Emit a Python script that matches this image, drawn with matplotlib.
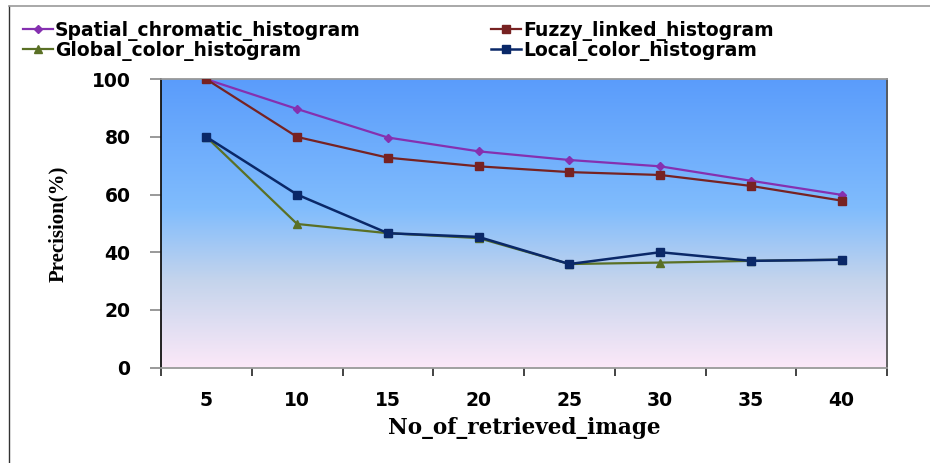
import numpy as np
import matplotlib.pyplot as plt
from matplotlib.colors import LinearSegmentedColormap
from matplotlib.lines import Line2D

# Retrieval precision for each histogram method
n_retrieved = ["5", "10", "15", "20", "25", "30", "35", "40"]
spatial_chromatic = [100, 89.7, 79.8, 75, 72, 69.8, 64.8, 59.9]
fuzzy_linked = [100, 80, 72.8, 69.8, 67.8, 66.8, 63, 57.9]
global_color = [80, 49.8, 46.6, 44.9, 35.9, 36.4, 37, 37.4]
local_color = [80, 60, 46.6, 45.3, 35.9, 40, 37, 37.4]

fig = plt.figure(figsize=(9.3, 4.63), dpi=100)
ax = fig.add_axes([161 / 930, 1 - 367.5 / 463, 726 / 930, 288.2 / 463])

# frame around the chart
fig.add_artist(Line2D([9 / 930, 9 / 930], [0, 1 - 6 / 463], transform=fig.transFigure,
                      color="#333333", lw=1))
fig.add_artist(Line2D([9 / 930, 1], [1 - 6 / 463, 1 - 6 / 463], transform=fig.transFigure,
                      color="#9a9a9a", lw=1.2))

# blue-to-pink gradient fill of the plot area
grad = LinearSegmentedColormap.from_list(
    "bg", [(0, "#fbe8f8"), (0.3, "#c4d4ec"), (0.55, "#80bcfd"), (1, "#5a9cfb")])
ax.imshow(np.linspace(0, 1, 256).reshape(-1, 1), cmap=grad, aspect="auto",
          extent=[0, 1, 0, 1], transform=ax.transAxes, origin="lower", zorder=0)

x = np.arange(len(n_retrieved))
l1, = ax.plot(x, spatial_chromatic, color="#8530b0", lw=1.6, marker="D", ms=4.5,
              label="Spatial_chromatic_histogram", zorder=3)
l2, = ax.plot(x, fuzzy_linked, color="#772222", lw=1.6, marker="s", ms=6,
              label="Fuzzy_linked_histogram", zorder=3)
l3, = ax.plot(x, global_color, color="#5a7025", lw=1.6, marker="^", ms=6,
              label="Global_color_histogram", zorder=3)
l4, = ax.plot(x, local_color, color="#0a2868", lw=1.8, marker="s", ms=6,
              label="Local_color_histogram", zorder=4)

ax.set_xlim(-0.5, len(n_retrieved) - 0.5)
ax.set_ylim(0, 100)

# category axis: tick marks on boundaries, labels at centres
ax.set_xticks(np.arange(-0.5, len(n_retrieved)))
ax.set_xticklabels([])
ax.set_xticks(x, minor=True)
ax.set_xticklabels(n_retrieved, minor=True, fontsize=13.5, fontweight="bold")
ax.tick_params(axis="x", which="major", direction="out", length=6, width=1.2,
               color="#222222")
ax.tick_params(axis="x", which="minor", length=0, pad=17)

ax.set_yticks(np.arange(0, 101, 20))
ax.tick_params(axis="y", direction="out", length=8, width=1.2, color="#888888", pad=14)
for lab in ax.get_yticklabels():
    lab.set_fontsize(13.5)
    lab.set_fontweight("bold")

ax.spines["left"].set_color("#111111")
ax.spines["bottom"].set_color("#999999")
ax.spines["top"].set_color("#999999")
ax.spines["right"].set_color("#555555")
for s in ax.spines.values():
    s.set_linewidth(1.3)

ax.set_xlabel("No_of_retrieved_image", family="DejaVu Serif", fontweight="bold",
              fontsize=15.5, labelpad=5)
ax.set_ylabel("Precision(%)", family="Liberation Serif", fontweight="bold",
              fontsize=15, labelpad=17)

# two legend columns, pinned at their own positions
leg_kw = dict(loc="center left", frameon=False, handlelength=1.6, handletextpad=0.1,
              labelspacing=0.0, borderaxespad=0, borderpad=0,
              prop={"weight": "bold", "size": 13.5})
leg1 = fig.legend([l1, l3], [l1.get_label(), l3.get_label()],
                  bbox_to_anchor=(23 / 930, 1 - 41 / 463), **leg_kw)
leg2 = fig.legend([l2, l4], [l2.get_label(), l4.get_label()],
                  bbox_to_anchor=(491 / 930, 1 - 41 / 463), **leg_kw)

fig.savefig("out.png", dpi=100)
